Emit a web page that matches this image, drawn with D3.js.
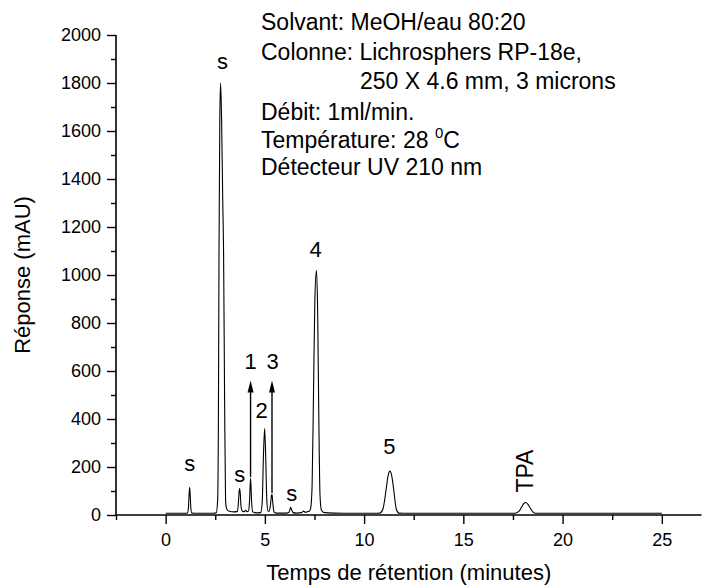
<!DOCTYPE html>
<html>
<head>
<meta charset="utf-8">
<script src="https://cdn.jsdelivr.net/npm/d3@7"></script>
<style>
  html, body { margin: 0; padding: 0; background: #fff; }
  svg text { font-family: Arial, "Liberation Sans", sans-serif; fill: #000; }
</style>
</head>
<body>
<svg id="chart" width="710" height="586"></svg>
<script>
// ---- Data ----
const traceTime = [
  0, 0.5, 1.0, 1.1, 1.15, 1.18, 1.21, 1.24, 1.27, 1.32, 1.6, 2.0, 2.4, 2.55,
  2.62, 2.66, 2.69, 2.73, 2.77, 2.82, 2.88, 2.92, 2.97, 3.02, 3.08, 3.2, 3.45, 3.62,
  3.67, 3.7, 3.73, 3.76, 3.8, 3.88, 3.96, 4.03, 4.1, 4.18, 4.23, 4.28, 4.33, 4.39,
  4.5, 4.65, 4.8, 4.87, 4.93, 4.99, 5.04, 5.1, 5.16, 5.22, 5.28, 5.33, 5.36, 5.4,
  5.46, 5.55, 5.8, 6.1, 6.2, 6.26, 6.3, 6.35, 6.42, 6.6, 6.85, 6.95, 7.05, 7.15,
  7.22, 7.3, 7.38, 7.45, 7.52, 7.6, 7.66, 7.72, 7.78, 7.85, 8.0, 8.5, 9.5, 10.5,
  10.8, 10.95, 11.1, 11.2, 11.3, 11.4, 11.5, 11.62, 11.75, 12.2, 14, 16, 17.6,
  17.8, 17.95, 18.05, 18.15, 18.25, 18.38, 18.5, 18.65, 19.2, 21, 23, 25
];
const traceSignal = [
  7, 7, 7, 8, 30, 80, 115, 80, 30, 8, 7, 7, 7, 9,
  60, 400, 1100, 1650, 1800, 1650, 1300, 1100, 500, 60, 25, 16, 13, 15,
  55, 95, 110, 90, 35, 15, 14, 20, 14, 17, 60, 154, 60, 13,
  10, 9, 11, 60, 250, 360, 250, 60, 16, 16, 40, 80, 86, 50,
  13, 8, 8, 8, 10, 22, 32, 22, 10, 8, 10, 16, 11, 14,
  15, 25, 120, 500, 900, 1020, 850, 400, 80, 20, 10, 8, 7, 7,
  8, 25, 100, 160, 183, 160, 100, 25, 8, 7, 7, 7, 7,
  15, 35, 48, 52, 45, 28, 13, 7, 7, 7, 7, 7
];

const xTicks = [0, 5, 10, 15, 20, 25];
const xMinorTicks = [-2.5, 2.5, 7.5, 12.5, 17.5, 22.5];
const yTicks = [0, 200, 400, 600, 800, 1000, 1200, 1400, 1600, 1800, 2000];
const yMinorTicks = [100, 300, 500, 700, 900, 1100, 1300, 1500, 1700, 1900];

// Peak labels (anchor in data units: time, signal)
const peakLabelText = ["s", "s", "s", "s", "1", "2", "3", "4", "5"];
const peakLabelTime = [1.21, 2.87, 3.73, 6.35, 4.28, 4.84, 5.39, 7.56, 11.28];
const peakLabelSignal = [183, 1858, 137, 58, 608, 404, 608, 1075, 254];

// Rotated label
const tpaLabel = { text: "TPA", time: 18.49, signal: 183 };

// Arrows above peaks 1 and 3
const arrowTime = [4.28, 5.36];
const arrowFrom = [158, 92];
const arrowTo = [560, 560];

// Conditions text block
const conditionLines = [
  "Solvant: MeOH/eau 80:20",
  "Colonne: Lichrosphers RP-18e,",
  "250 X 4.6 mm, 3 microns",
  "Débit: 1ml/min.",
  "Température: 28 ",
  "Détecteur UV 210 nm"
];

const xTitle = "Temps de rétention (minutes)";
const yTitle = "Réponse (mAU)";

// ---- Drawing ----
const svg = d3.select("#chart");
const x = d3.scaleLinear().domain([-2.5, 27]).range([116, 701.5]);
const y = d3.scaleLinear().domain([0, 2000]).range([515, 35]);

// Trace
const pts = traceTime.map((t, i) => [t, traceSignal[i]]);
const line = d3.line().x(d => x(d[0])).y(d => y(d[1])).curve(d3.curveMonotoneX);
svg.append("path")
  .attr("d", line(pts))
  .attr("fill", "none")
  .attr("stroke", "#000")
  .attr("stroke-width", 1.1);

// X axis
const gx = svg.append("g").attr("transform", `translate(0,${y(0)})`);
gx.call(d3.axisBottom(x).tickValues(xTicks).tickSize(9).tickPadding(9).tickFormat(d3.format("d")));
gx.append("g").call(d3.axisBottom(x).tickValues(xMinorTicks).tickSize(5).tickFormat(""))
  .select(".domain").remove();
gx.select(".domain").attr("d", `M${x(-2.5)},0H${x(27)}`);

// Y axis
const gy = svg.append("g").attr("transform", `translate(${x(-2.5)},0)`);
gy.call(d3.axisLeft(y).tickValues(yTicks).tickSize(9).tickPadding(6).tickFormat(d3.format("d")));
gy.append("g").call(d3.axisLeft(y).tickValues(yMinorTicks).tickSize(5).tickFormat(""))
  .select(".domain").remove();
gy.select(".domain").attr("d", `M0,${y(2000)}V${y(0)}`);

svg.selectAll(".domain").attr("stroke", "#000").attr("stroke-width", 1.6);
svg.selectAll(".tick line").attr("stroke", "#000").attr("stroke-width", 1.4);
svg.selectAll(".tick text").attr("font-size", 18)
  .attr("font-family", 'Arial, "Liberation Sans", sans-serif').attr("fill", "#000");

// Axis titles
svg.append("text")
  .attr("x", (x(-2.5) + x(27)) / 2).attr("y", 580)
  .attr("text-anchor", "middle").attr("font-size", 22)
  .text(xTitle);
svg.append("text")
  .attr("transform", `translate(30,${(y(0) + y(2000)) / 2}) rotate(-90)`)
  .attr("text-anchor", "middle").attr("font-size", 22)
  .text(yTitle);

// Peak labels
svg.append("g").selectAll("text")
  .data(peakLabelText)
  .join("text")
  .attr("x", (d, i) => x(peakLabelTime[i]))
  .attr("y", (d, i) => y(peakLabelSignal[i]))
  .attr("text-anchor", "middle")
  .attr("font-size", 22)
  .text(d => d);

svg.append("text")
  .attr("transform", `translate(${x(tpaLabel.time)},${y(tpaLabel.signal)}) rotate(-90)`)
  .attr("text-anchor", "middle")
  .attr("font-size", 23)
  .text(tpaLabel.text);

// Arrows
arrowTime.forEach((t, i) => {
  const ax = x(t), y0 = y(arrowFrom[i]), y1 = y(arrowTo[i]);
  svg.append("line")
    .attr("x1", ax).attr("x2", ax)
    .attr("y1", y0).attr("y2", y1 + 10)
    .attr("stroke", "#000").attr("stroke-width", 1.4);
  svg.append("path")
    .attr("d", `M${ax},${y1}L${ax - 3},${y1 + 12}L${ax + 3},${y1 + 12}Z`)
    .attr("fill", "#000");
});

// Conditions block
const condX = [261, 261, 360, 261, 261, 261];
const condY = [30, 60, 89, 120, 148, 175];
const cond = svg.append("g").attr("font-size", 23);
conditionLines.forEach((s, i) => {
  const t = cond.append("text").attr("x", condX[i]).attr("y", condY[i]).text(s);
  if (i === 4) {
    t.append("tspan").attr("font-size", 15).attr("dy", -10).text("0");
    t.append("tspan").attr("dy", 10).text("C");
  }
});
</script>
</body>
</html>
